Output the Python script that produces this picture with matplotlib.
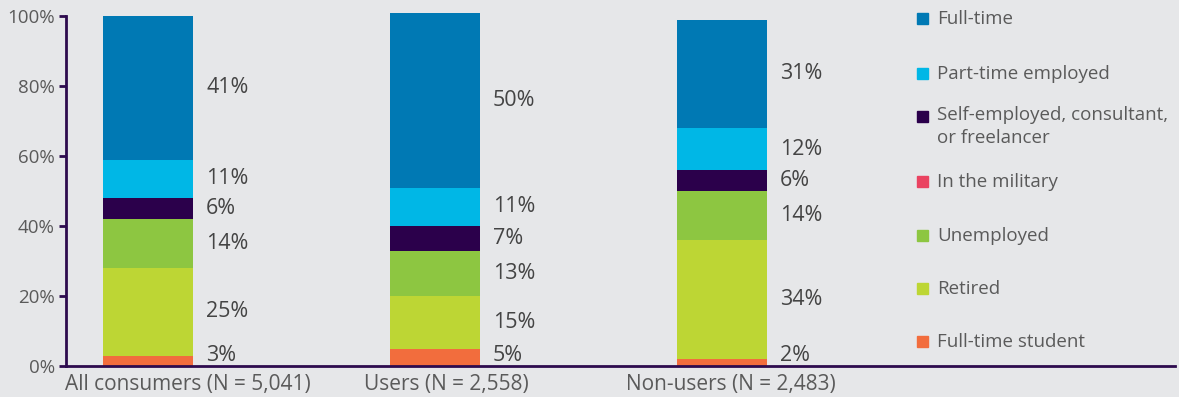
import matplotlib
matplotlib.use("Agg")
import matplotlib.pyplot as plt
from matplotlib.patches import Rectangle

plt.rcParams['font.family'] = ['Open Sans', 'DejaVu Sans']

groups = ['All consumers (N = 5,041)', 'Users (N = 2,558)', 'Non-users (N = 2,483)']
statuses = ['Full-time student', 'Retired', 'Unemployed', 'In the military',
            'Self-employed, consultant,\nor freelancer', 'Part-time employed', 'Full-time']
shares = {
    'Full-time student': [3, 5, 2],
    'Retired': [25, 15, 34],
    'Unemployed': [14, 13, 14],
    'In the military': [0, 0, 0],
    'Self-employed, consultant,\nor freelancer': [6, 7, 6],
    'Part-time employed': [11, 11, 12],
    'Full-time': [41, 50, 31],
}
colors = {
    'Full-time student': '#f26d3d',
    'Retired': '#bdd634',
    'Unemployed': '#8dc641',
    'In the military': '#ea4361',
    'Self-employed, consultant,\nor freelancer': '#2b004b',
    'Part-time employed': '#00b7e6',
    'Full-time': '#0079b4',
}
yticks = [0, 20, 40, 60, 80, 100]

bg = '#e6e7e9'
axis_col = '#2d0b4e'
text_col = '#5a5a5a'

fig = plt.figure(figsize=(11.79, 3.97), dpi=100, facecolor=bg)
ax = fig.add_axes([0.056, 0.078, 0.9406, 0.8816], facecolor=bg)

x = list(range(len(groups)))
width = 0.314
bottom = [0, 0, 0]
for s in statuses:
    vals = shares[s]
    ax.bar(x, vals, width, bottom=bottom, color=colors[s], clip_on=False, zorder=2)
    for i, v in enumerate(vals):
        if v > 0:
            # keep the thin bottom labels clear of the axis line
            ty = max(bottom[i] + v / 2, 3)
            ax.text(i + width / 2 + 0.045, ty, f'{v}%',
                    va='center', ha='left', fontsize=15.5, color='#444444')
    bottom = [b + v for b, v in zip(bottom, vals)]

ax.set_xlim(-0.286, 3.578)
ax.set_ylim(0, 100)
ax.set_yticks(yticks)
ax.set_yticklabels([f'{t}%' for t in yticks], fontsize=13.5, color=text_col)
# group names sit a little right of the bar centres
name_shift = [0.14, 0.04, 0.03]
ax.set_xticks([i + d for i, d in zip(x, name_shift)])
ax.set_xticklabels(groups, fontsize=15, color=text_col)
ax.tick_params(axis='y', length=5, width=2, color=axis_col, pad=3)
ax.tick_params(axis='x', length=0, pad=6)
for side in ['top', 'right']:
    ax.spines[side].set_visible(False)
for side in ['left', 'bottom']:
    ax.spines[side].set_color(axis_col)
    ax.spines[side].set_linewidth(2)

# legend drawn by hand, top entry first
legend_order = statuses[::-1]
leg_y = [0.952, 0.814, 0.707, 0.542, 0.406, 0.272, 0.139]
for s, y in zip(legend_order, leg_y):
    fig.patches.append(Rectangle((0.7778, y - 0.0135), 0.0093, 0.0277,
                                 transform=fig.transFigure, color=colors[s]))
    two_lines = '\n' in s
    fig.text(0.7947, y + (0.027 if two_lines else 0), s,
             va='top' if two_lines else 'center', ha='left',
             fontsize=13.5, color=text_col, linespacing=1.35)

fig.savefig('out.png', dpi=100, facecolor=bg)
